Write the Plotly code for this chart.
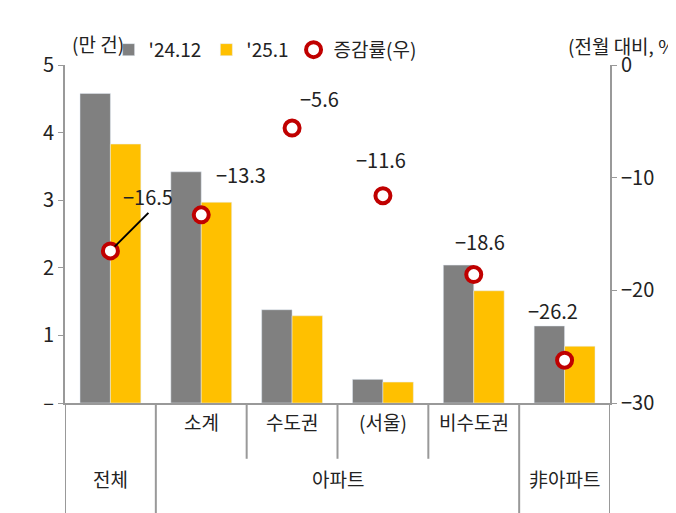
import plotly.graph_objects as go

cats = ["전체", "소계", "수도권", "(서울)", "비수도권", "非아파트"]
v2412 = [4.58, 3.42, 1.38, 0.35, 2.04, 1.14]
v2501 = [3.83, 2.97, 1.29, 0.31, 1.66, 0.84]
rate = [-16.5, -13.3, -5.6, -11.6, -18.6, -26.2]
rate_lbl = ["−16.5", "−13.3", "−5.6", "−11.6", "−18.6", "−26.2"]
lbl_shift = [(0, 0), (40, 40), (27, 30), (-2, 36), (6, 33), (-12, 50)]

F = "Noto Sans CJK KR"
x = list(range(len(cats)))
fig = go.Figure()
fig.add_bar(x=x, y=v2412, name="'24.12", marker_color="#808080")
fig.add_bar(x=x, y=v2501, name="'25.1", marker_color="#FFC000")
fig.add_scatter(x=x, y=rate, yaxis="y2", mode="markers", name="증감률(우)",
                marker=dict(size=15, color="white", line=dict(color="#C00000", width=4)))

ann = []
for i in range(1, 6):
    ann.append(dict(x=x[i], y=rate[i], xref="x", yref="y2", text=rate_lbl[i], showarrow=False,
                    xshift=lbl_shift[i][0], yshift=lbl_shift[i][1], font=dict(size=20, color="#222")))
ann.append(dict(x=x[0], y=rate[0], xref="x", yref="y2", text=rate_lbl[0], showarrow=True,
                arrowhead=0, arrowwidth=2, arrowcolor="black", ax=38, ay=-38, standoff=6,
                font=dict(size=20, color="#222"), xanchor="center", yanchor="bottom"))
for i in [1, 2, 3, 4]:
    ann.append(dict(x=x[i], y=-0.1, xref="x", yref="paper", text=cats[i], showarrow=False,
                    font=dict(size=19, color="#222")))
ann.append(dict(x=x[0], y=-0.27, xref="x", yref="paper", text=cats[0], showarrow=False, font=dict(size=19, color="#222")))
ann.append(dict(x=2.5, y=-0.27, xref="x", yref="paper", text="아파트", showarrow=False, font=dict(size=19, color="#222")))
ann.append(dict(x=x[5], y=-0.27, xref="x", yref="paper", text=cats[5], showarrow=False, font=dict(size=19, color="#222")))
ann.append(dict(x=0.01, y=1.11, xref="paper", yref="paper", text="(만 건)", showarrow=False, xanchor="left", font=dict(size=19, color="#222")))
ann.append(dict(x=1.135, y=1.105, xref="paper", yref="paper", text="(전월 대비, %)", showarrow=False, xanchor="right", font=dict(size=19, color="#222")))

shapes = []
for xv, y0 in [(-0.5, -0.335), (0.5, -0.335), (1.5, -0.165), (2.5, -0.165), (3.5, -0.165), (4.5, -0.335), (5.5, -0.335)]:
    shapes.append(dict(type="line", xref="x", yref="paper", x0=xv, x1=xv, y0=0, y1=y0,
                       line=dict(color="#999", width=2)))

fig.update_layout(
    width=676, height=513, margin=dict(l=57, r=74, t=57, b=118, autoexpand=False),
    plot_bgcolor="white", paper_bgcolor="white",
    font=dict(family=F, size=20, color="#222"),
    barmode="group", bargap=0.33, bargroupgap=0,
    xaxis=dict(range=[-0.5, 5.5], showticklabels=False, showline=True, linecolor="#999", linewidth=2,
               ticks="", showgrid=False, zeroline=False),
    yaxis=dict(range=[0, 5], tickvals=[0, 1, 2, 3, 4, 5], ticktext=["–", "1", "2", "3", "4", "5"],
               showline=True, linecolor="#999", linewidth=2, ticks="outside", ticklen=5, tickcolor="#999",
               showgrid=False, zeroline=False),
    yaxis2=dict(range=[-30, 0], overlaying="y", side="right", tickvals=[0, -10, -20, -30],
                ticktext=["0", "−10", "−20", "−30"], showline=True, linecolor="#999", linewidth=2,
                ticks="outside", ticklen=5, tickcolor="#999", showgrid=False, zeroline=False),
    legend=dict(orientation="h", x=0.08, y=1.045, xanchor="left", yanchor="middle",
                font=dict(size=19), itemwidth=30, traceorder="normal", bgcolor="rgba(0,0,0,0)"),
    annotations=ann, shapes=shapes, showlegend=True,
)
fig.write_html("out.html")
